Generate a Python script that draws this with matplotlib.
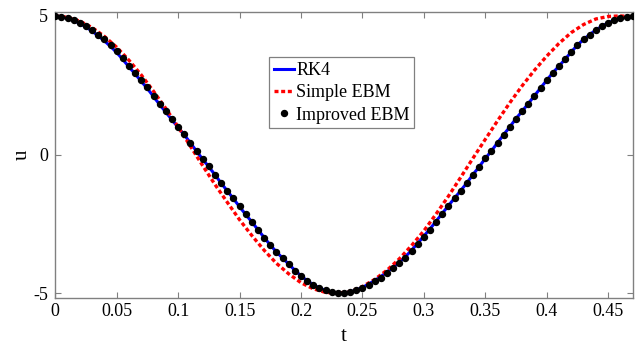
import matplotlib
matplotlib.use("Agg")
import matplotlib.pyplot as plt
import numpy as np

plt.rcParams['font.family'] = ['Liberation Serif', 'DejaVu Serif']
plt.rcParams['axes.unicode_minus'] = False

# Time grid for the Improved EBM dots (step 0.005 from 0 to 0.47)
t_dots = [round(0.005 * i, 3) for i in range(95)]
u_improved = [
    5.00, 4.97, 4.92, 4.85, 4.76, 4.64, 4.50, 4.33, 4.15, 3.95,
    3.73, 3.47, 3.20, 2.95, 2.68, 2.42, 2.12, 1.82, 1.56, 1.27,
    1.00, 0.73, 0.43, 0.13, -0.16, -0.42, -0.72, -1.03, -1.30, -1.58,
    -1.87, -2.16, -2.43, -2.71, -3.00, -3.27, -3.52, -3.73, -3.95, -4.18,
    -4.38, -4.57, -4.69, -4.82, -4.90, -4.96, -5.00, -5.00, -4.95, -4.88,
    -4.80, -4.69, -4.57, -4.44, -4.27, -4.10, -3.92, -3.72, -3.49, -3.24,
    -2.97, -2.71, -2.42, -2.14, -1.86, -1.58, -1.31, -1.03, -0.72, -0.45,
    -0.14, 0.13, 0.43, 0.72, 1.00, 1.30, 1.56, 1.84, 2.12, 2.40,
    2.68, 2.95, 3.19, 3.44, 3.70, 3.95, 4.15, 4.33, 4.49, 4.63,
    4.75, 4.84, 4.91, 4.96, 4.98,
]

# RK4 reference solution (same grid)
t_rk4 = t_dots
u_rk4 = [
    5.00, 4.97, 4.91, 4.83, 4.73, 4.60, 4.45, 4.28, 4.10, 3.90,
    3.68, 3.43, 3.16, 2.91, 2.64, 2.38, 2.09, 1.80, 1.53, 1.25,
    0.98, 0.71, 0.42, 0.12, -0.17, -0.44, -0.73, -1.03, -1.31, -1.59,
    -1.88, -2.16, -2.43, -2.71, -2.99, -3.26, -3.51, -3.73, -3.95, -4.17,
    -4.37, -4.55, -4.69, -4.81, -4.90, -4.96, -4.99, -4.99, -4.95, -4.88,
    -4.79, -4.67, -4.54, -4.40, -4.23, -4.06, -3.88, -3.68, -3.45, -3.20,
    -2.94, -2.68, -2.40, -2.12, -1.84, -1.57, -1.30, -1.02, -0.72, -0.44,
    -0.14, 0.13, 0.43, 0.72, 1.00, 1.30, 1.56, 1.84, 2.12, 2.40,
    2.68, 2.95, 3.19, 3.44, 3.70, 3.95, 4.15, 4.33, 4.49, 4.63,
    4.75, 4.84, 4.91, 4.96, 4.98,
]

# Simple EBM (step 0.01 from 0 to 0.47)
t_simple = [round(0.01 * i, 2) for i in range(48)]
u_simple = [
    5.00, 4.95, 4.81, 4.58, 4.26, 3.87, 3.40, 2.87, 2.28, 1.66,
    1.00, 0.30, -0.40, -1.08, -1.72, -2.35, -2.92, -3.45, -3.92, -4.30,
    -4.62, -4.84, -4.97, -5.00, -4.93, -4.76, -4.50, -4.17, -3.76, -3.28,
    -2.75, -2.14, -1.50, -0.82, -0.13, 0.55, 1.22, 1.87, 2.48, 3.04,
    3.55, 4.01, 4.40, 4.69, 4.89, 4.98, 5.00, 4.97,
]

x_ticks = [0, 0.05, 0.1, 0.15, 0.2, 0.25, 0.3, 0.35, 0.4, 0.45]
x_tick_labels = ["0", "0.05", "0.1", "0.15", "0.2", "0.25", "0.3", "0.35", "0.4", "0.45"]
y_ticks = [-5, 0, 5]
y_tick_labels = ["-5", "0", "5"]

fig = plt.figure(figsize=(6.4, 3.45), dpi=100)
ax = fig.add_axes([0.0864, 0.1371, 0.9022, 0.8272])

ax.plot(t_rk4, u_rk4, color='#0000FF', lw=2.2, label='RK4', zorder=2)
ax.plot(t_simple, u_simple, color='#FF0000', lw=2.4, dashes=(1.2, 0.8),
        label='Simple EBM', zorder=3)
ax.plot(t_dots, u_improved, linestyle='none', marker='o', ms=4.3,
        color='black', label='Improved EBM', zorder=4)

ax.set_xlim(0, 0.47)
ax.set_ylim(-5.16, 5.13)
ax.set_xticks(x_ticks)
ax.set_xticklabels(x_tick_labels)
ax.set_yticks(y_ticks)
ax.set_yticklabels(y_tick_labels)

ax.tick_params(direction='in', top=True, right=True, length=4, width=0.8,
               color='#808080', labelsize=13, labelcolor='black')
ax.tick_params(axis='x', pad=4)
ax.tick_params(axis='y', pad=5)
for sp in ax.spines.values():
    sp.set_color('#808080')
    sp.set_linewidth(1.0)

ax.set_xlabel('t', fontsize=15, labelpad=5)
ax.set_ylabel('u', fontsize=15, labelpad=1)

leg = ax.legend(loc='upper left', bbox_to_anchor=(0.3706, 0.842),
                borderaxespad=0, fancybox=False, framealpha=1,
                edgecolor='#808080', fontsize=13, handlelength=1.1,
                handletextpad=0.15, labelspacing=0.3, borderpad=0.25,
                markerscale=1.0)
leg.get_frame().set_linewidth(0.9)

fig.savefig('out.png', dpi=100)
